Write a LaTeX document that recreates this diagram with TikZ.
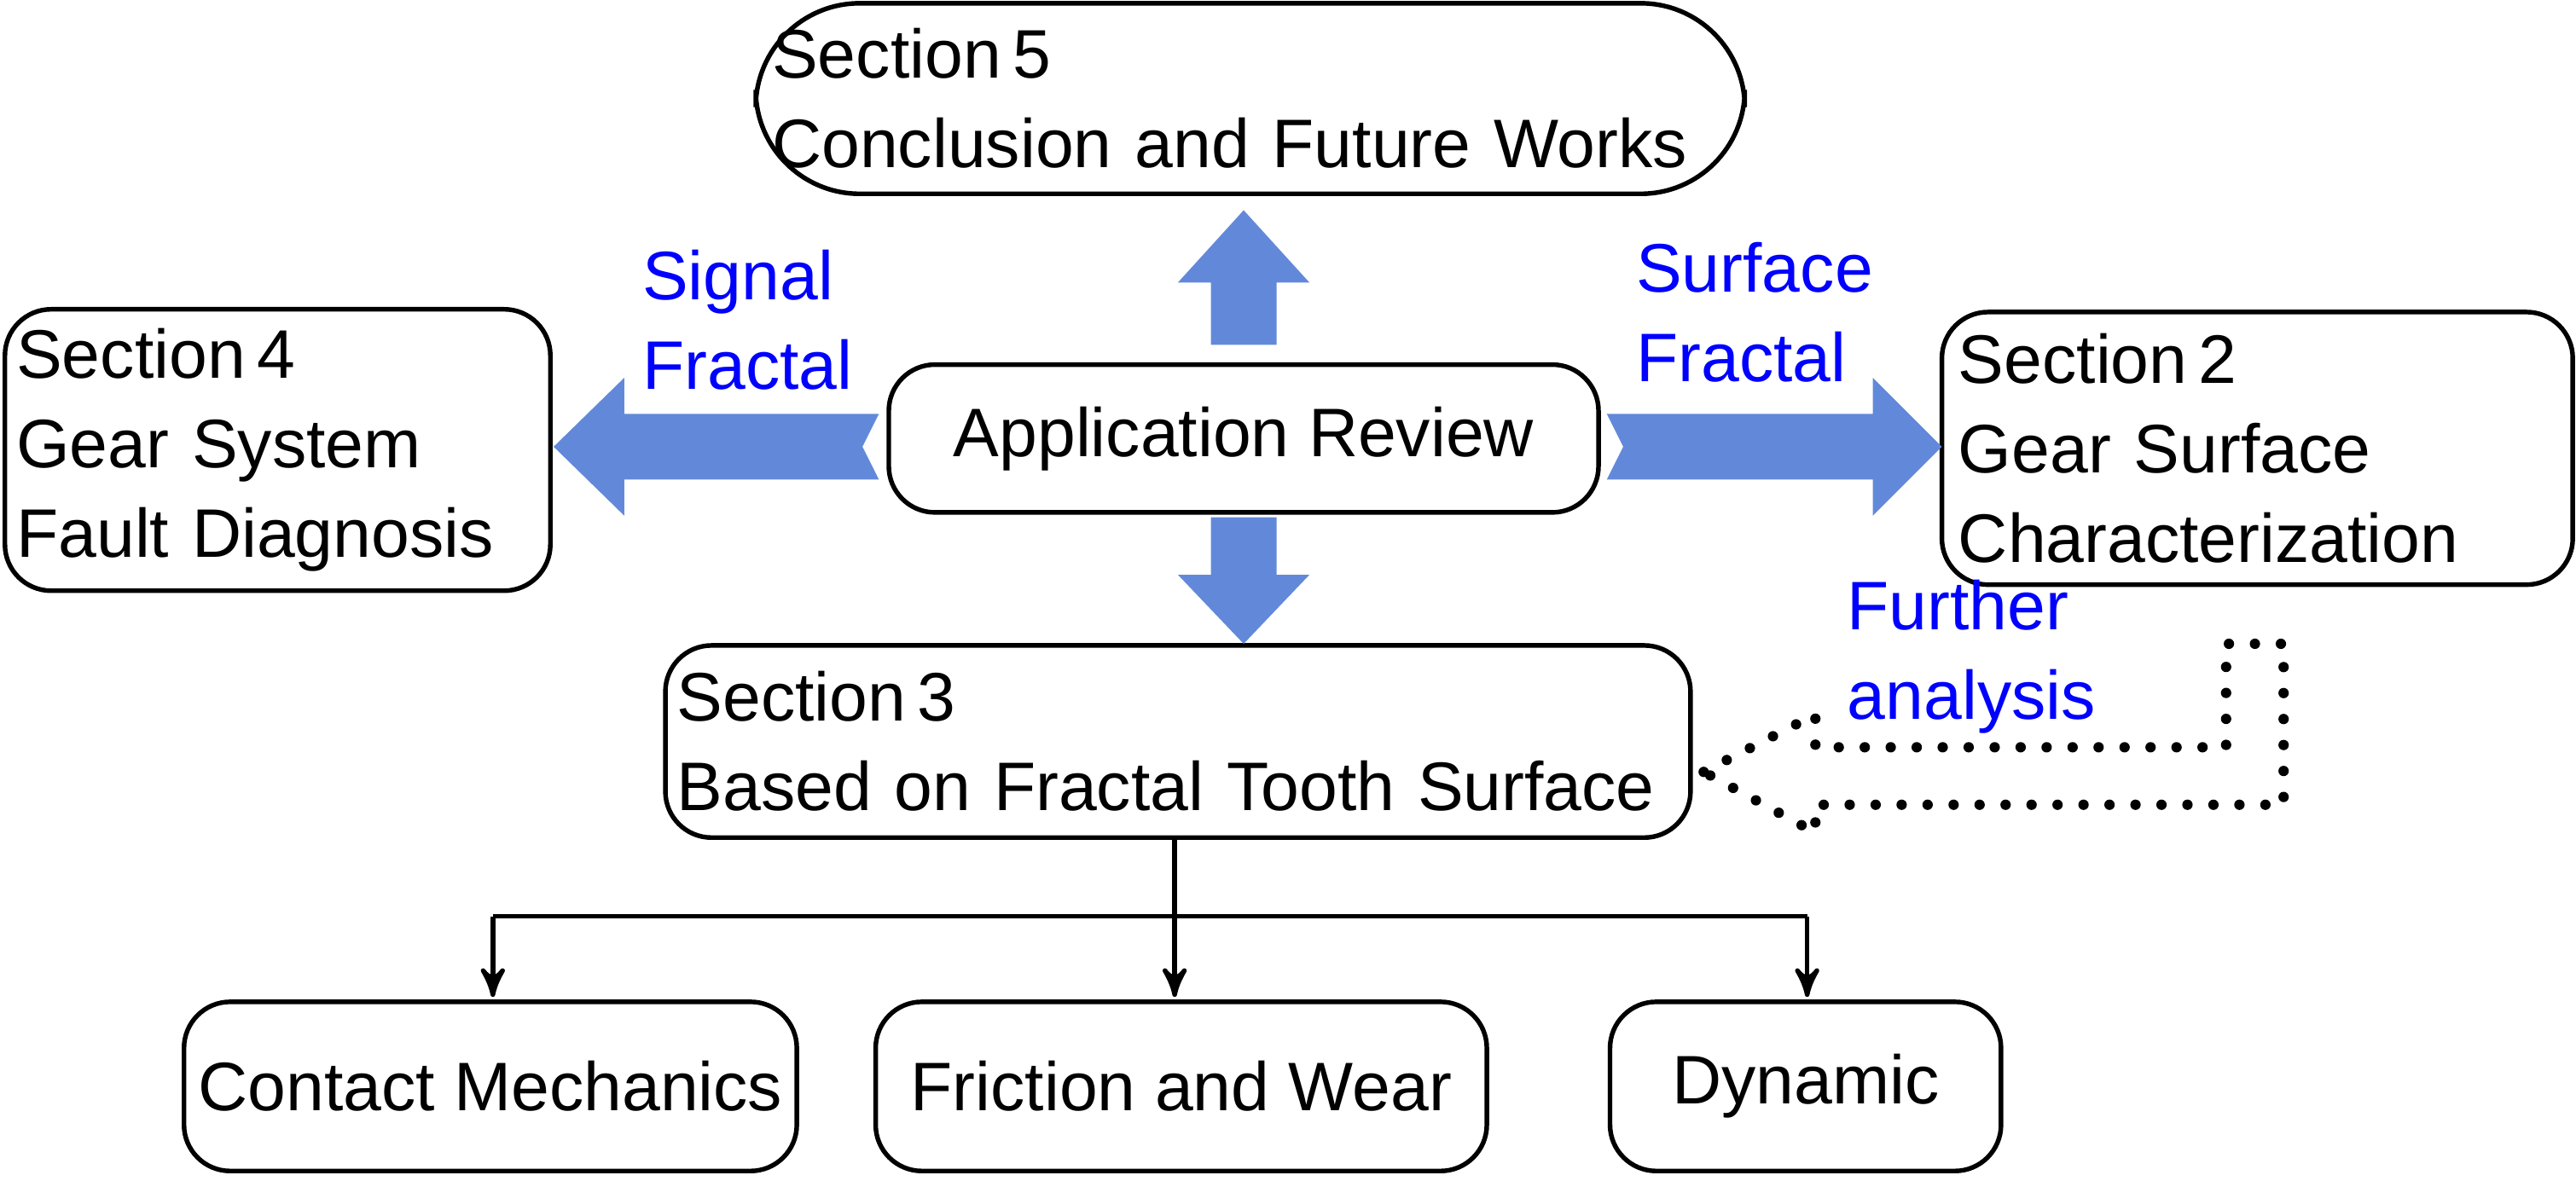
\documentclass[tikz,border=0pt]{standalone}
\usepackage{fontspec}
\setmainfont{Liberation Sans}
\usetikzlibrary{arrows,positioning}
\tikzset{>=stealth'}
\definecolor{arrowblue}{RGB}{98,137,217}
\hyphenpenalty=10000

\begin{document}
\begin{tikzpicture}[
                    box/.style={draw, thick, rounded corners=8pt, align=left, inner xsep=0.15cm, font=\fontsize{11.9}{15.5}\selectfont},
                    blocky/.style={fill=arrowblue, draw=none},
                    bluelabel/.style={text=blue, align=left, font=\fontsize{11.9}{15.5}\selectfont},
                    tree/.style={thick, black, ->},
                   ]

\useasboundingbox (0,0) rectangle (15.68,-7.19);

% boxes
\node[box, rounded corners=18pt, minimum width=6.02cm, minimum height=1.16cm, text width=5.82cm, inner xsep=0.1cm] (sec5) at (7.61,-0.60) {Section\,5\\Conclusion and Future Works};
\node[box, minimum width=4.32cm, minimum height=0.90cm] (review) at (7.57,-2.67) {Application Review};
\node[box, minimum width=3.32cm, minimum height=1.52cm, text width=3.18cm, inner xsep=0.07cm] (sec4) at (1.69,-2.74) {Section\,4\\Gear System\\Fault Diagnosis};
\node[box, minimum width=3.84cm, minimum height=1.66cm, text width=3.64cm, inner xsep=0.1cm] (sec2) at (13.74,-2.73) {Section\,2\\Gear Surface\\Characterization};
\node[box, minimum width=6.24cm, minimum height=1.17cm, text width=6.1cm, inner xsep=0.07cm] (sec3) at (7.17,-4.515) {Section\,3\\Based on Fractal Tooth Surface};
\node[box, minimum width=3.73cm, minimum height=1.03cm, inner xsep=0.05cm] (contact) at (2.985,-6.615) {Contact Mechanics};
\node[box, minimum width=3.72cm, minimum height=1.03cm] (friction) at (7.19,-6.615) {Friction and Wear};
\node[box, minimum width=2.38cm, minimum height=1.03cm] (dynamic) at (10.99,-6.615) {Dynamic};

% block arrows
\fill[blocky] (7.37,-2.10) -- (7.37,-1.72) -- (7.17,-1.72) -- (7.57,-1.28) -- (7.97,-1.72) -- (7.77,-1.72) -- (7.77,-2.10) -- cycle;
\fill[blocky] (7.37,-3.15) -- (7.37,-3.50) -- (7.17,-3.50) -- (7.57,-3.92) -- (7.97,-3.50) -- (7.77,-3.50) -- (7.77,-3.15) -- cycle;
\fill[blocky] (5.35,-2.52) -- (3.80,-2.52) -- (3.80,-2.30) -- (3.37,-2.72) -- (3.80,-3.14) -- (3.80,-2.92) -- (5.35,-2.92) -- (5.25,-2.72) -- cycle;
\fill[blocky] (9.78,-2.52) -- (11.40,-2.52) -- (11.40,-2.30) -- (11.82,-2.72) -- (11.40,-3.14) -- (11.40,-2.92) -- (9.78,-2.92) -- (9.88,-2.72) -- cycle;

% labels
\node[bluelabel] (signal) at (4.55,-1.95) {Signal\\Fractal};
\node[bluelabel] (surface) at (10.68,-1.90) {Surface\\Fractal};
\node[bluelabel] (further) at (12.00,-4.00) {Further\\analysis};

% dotted hollow arrow
\draw[line width=1.8pt, line cap=round, dash pattern=on 0pt off 4.5pt] (10.37,-4.70) -- (11.05,-4.35) -- (11.05,-4.55) -- (13.55,-4.55) -- (13.55,-3.92)
      -- (13.90,-3.92) -- (13.90,-4.90) -- (11.05,-4.90) -- (11.05,-5.07) -- cycle;

% tree
\coordinate (split) at (7.15,-5.58);
\draw[thick] (sec3.south -| split) -- (split);
\draw[thick] (3.00,-5.58) -- (11.00,-5.58);
\draw[tree] (3.00,-5.58) -- (3.00,-6.07);
\draw[tree] (split) -- (7.15,-6.07);
\draw[tree] (11.00,-5.58) -- (11.00,-6.07);

\end{tikzpicture}
\end{document}
